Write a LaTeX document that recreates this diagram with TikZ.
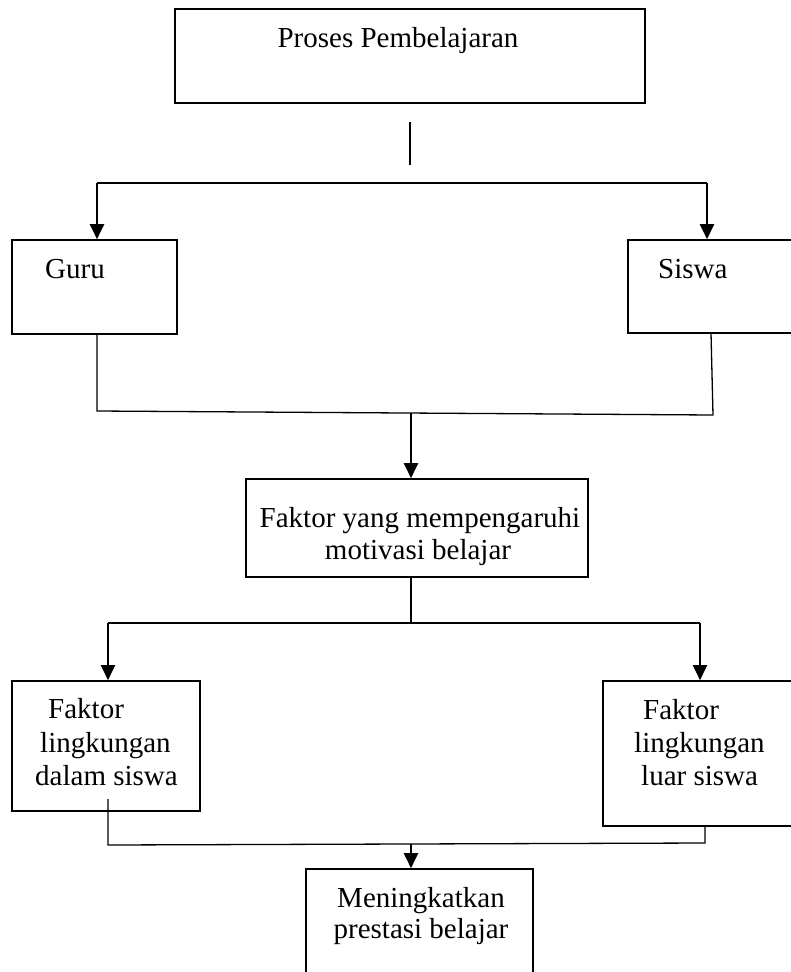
\documentclass[tikz,border=0pt]{standalone}
\usepackage{fontspec}
\setmainfont{Liberation Serif}
\usetikzlibrary{positioning,arrows.meta}
\tikzset{
    box/.style={draw, line width=1.6pt, rectangle, inner sep=0pt},
    txt/.style={inner sep=0pt, anchor=base west, font=\fontsize{29}{33}\selectfont},
    ctxt/.style={inner sep=0pt, anchor=base, font=\fontsize{29}{33}\selectfont},
    flow/.style={line width=2pt, -{Triangle[width=14pt,length=15pt]}},
    link/.style={line width=1.3pt},
}

\begin{document}
\begin{tikzpicture}[x=1pt,y=-1pt]
  \useasboundingbox (0,0) rectangle (790,972);

  % boxes
  \node[box, minimum width=470, minimum height=94] (proses) at (410,56) {};
  \node[box, minimum width=165, minimum height=94] (guru) at (94.5,287) {};
  \node[box, minimum width=180, minimum height=93] (siswa) at (718,286.5) {};
  \node[box, minimum width=342, minimum height=98] (faktor) at (417,528) {};
  \node[box, minimum width=188, minimum height=130] (dalam) at (106,746) {};
  \node[box, minimum width=200, minimum height=145] (luar) at (703,753.5) {};
  \node[box, minimum width=227, minimum height=140] (hasil) at (419.5,939) {};

  % texts
  \node[ctxt] (t_proses) at (398,47) {Proses Pembelajaran};
  \node[txt] (t_guru) at (45,278) {Guru};
  \node[txt] (t_siswa) at (658,278) {Siswa};
  \node[ctxt] (t_faktor1) at (420,527) {Faktor yang mempengaruhi};
  \node[ctxt] (t_faktor2) at (418,559) {motivasi belajar};
  \node[txt] (t_dalam1) at (48,718) {Faktor};
  \node[txt] (t_dalam2) at (40,752) {lingkungan};
  \node[txt] (t_dalam3) at (35,785) {dalam siswa};
  \node[txt] (t_luar1) at (643,719) {Faktor};
  \node[txt] (t_luar2) at (634,752) {lingkungan};
  \node[txt] (t_luar3) at (641,785) {luar siswa};
  \node[ctxt] (t_hasil1) at (421,907) {Meningkatkan};
  \node[ctxt] (t_hasil2) at (421,938) {prestasi belajar};

  % junctions
  \coordinate (s_top) at (410,122);
  \coordinate (s_bot) at (410,165);
  \coordinate (j1l) at (97,183);
  \coordinate (j1r) at (707,183);
  \coordinate (j2l) at (97,411);
  \coordinate (j2r) at (713,415);
  \coordinate (j2m) at (411,413);
  \coordinate (j3m) at (411,623);
  \coordinate (j3l) at (108,623);
  \coordinate (j3r) at (700,623);
  \coordinate (d_in) at (108,799);
  \coordinate (j4l) at (108,845);
  \coordinate (j4r) at (705,843);
  \coordinate (j4m) at (411,844);

  \draw[link] (s_top) -- (s_bot);
  \draw[line width=2pt] (j1l) -- (j1r);
  \draw[flow] (j1l) -- (j1l |- guru.north);
  \draw[flow] (j1r) -- (j1r |- siswa.north);

  \draw[link] (j2l |- guru.south) -- (j2l) -- (j2r) -- (711,333);
  \draw[flow] (j2m) -- (j2m |- faktor.north);

  \draw[link] (j3m |- faktor.south) -- (j3m);
  \draw[line width=1.6pt] (j3l) -- (j3r);
  \draw[flow] (j3l) -- (j3l |- dalam.north);
  \draw[flow] (j3r) -- (j3r |- luar.north);

  \draw[link] (d_in) -- (j4l) -- (j4r) -- (j4r |- luar.south);
  \draw[flow] (j4m) -- (j4m |- hasil.north);
\end{tikzpicture}
\end{document}
